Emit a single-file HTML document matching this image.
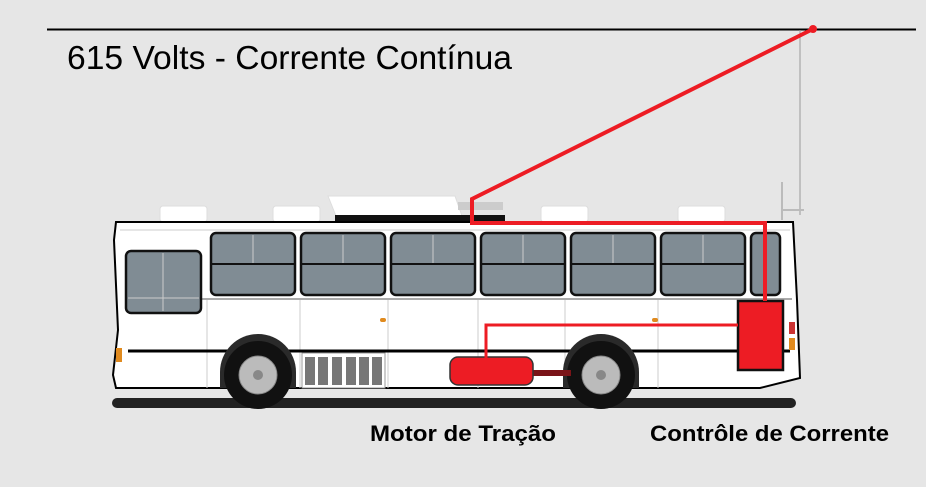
<!DOCTYPE html>
<html><head><meta charset="utf-8"><style>
html,body{margin:0;padding:0;background:#e6e6e6;}
svg{display:block}
</style></head><body>
<svg width="926" height="487" viewBox="0 0 926 487" xmlns="http://www.w3.org/2000/svg" font-family="Liberation Sans, Arial, sans-serif">
<rect width="926" height="487" fill="#e6e6e6"/>
<line x1="47" y1="29.5" x2="916" y2="29.5" stroke="#000" stroke-width="2"/>
<text x="67" y="69" font-size="33" fill="#000" textLength="445" lengthAdjust="spacingAndGlyphs">615 Volts - Corrente Contínua</text>
<!-- antenna -->
<line x1="800" y1="30" x2="800" y2="215" stroke="#999" stroke-width="1"/>
<line x1="782" y1="182" x2="782" y2="220" stroke="#bbb" stroke-width="2"/>
<line x1="782" y1="210" x2="804" y2="210" stroke="#bbb" stroke-width="2"/>
<!-- roof bumps -->
<g fill="#fff" stroke="#ddd">
<rect x="160" y="206" width="47" height="16" rx="3"/>
<rect x="273" y="206" width="47" height="16" rx="3"/>
<rect x="541" y="206" width="47" height="16" rx="3"/>
<rect x="678" y="206" width="47" height="16" rx="3"/>
</g>
<polygon points="328,196 455,196 462,216 336,216" fill="#fff" stroke="#ddd"/>
<rect x="335" y="215" width="170" height="7" fill="#111"/>
<rect x="458" y="202" width="45" height="8" fill="#ccc"/>
<!-- shadow -->
<rect x="112" y="398" width="684" height="10" rx="5" fill="#222"/>
<!-- body -->
<path d="M116,222 L793,222 L797,300 L800,378 L760,388 L116,388 L113,375 L118,330 L114,240 Z" fill="#fff" stroke="#000" stroke-width="2"/>
<line x1="120" y1="230" x2="790" y2="230" stroke="#ccc" stroke-width="1"/>
<line x1="128" y1="299" x2="792" y2="299" stroke="#aaa" stroke-width="2"/>
<g stroke="#ccc" stroke-width="1">
<line x1="207" y1="300" x2="207" y2="388"/><line x1="300" y1="300" x2="300" y2="388"/>
<line x1="388" y1="300" x2="388" y2="388"/><line x1="478" y1="300" x2="478" y2="388"/>
<line x1="565" y1="300" x2="565" y2="388"/><line x1="658" y1="300" x2="658" y2="388"/>
</g>
<line x1="128" y1="351" x2="790" y2="351" stroke="#000" stroke-width="3"/>
<rect x="116" y="348" width="6" height="14" fill="#e08a1e"/>
<rect x="789" y="322" width="6" height="12" fill="#c33"/>
<rect x="789" y="338" width="6" height="12" fill="#e08a1e"/>
<rect x="380" y="318" width="6" height="4" rx="2" fill="#e08a1e"/>
<rect x="652" y="318" width="6" height="4" rx="2" fill="#e08a1e"/>
<!-- windows -->
<g fill="#808c94" stroke="#111" stroke-width="2.5">
<rect x="126" y="251" width="75" height="62" rx="5"/>
<rect x="211" y="233" width="84" height="62" rx="5"/>
<rect x="301" y="233" width="84" height="62" rx="5"/>
<rect x="391" y="233" width="84" height="62" rx="5"/>
<rect x="481" y="233" width="84" height="62" rx="5"/>
<rect x="571" y="233" width="84" height="62" rx="5"/>
<rect x="661" y="233" width="84" height="62" rx="5"/>
<rect x="751" y="233" width="29" height="62" rx="5"/>
</g>
<g stroke="#111" stroke-width="2">
<line x1="212" y1="264" x2="294" y2="264"/><line x1="302" y1="264" x2="384" y2="264"/>
<line x1="392" y1="264" x2="474" y2="264"/><line x1="482" y1="264" x2="564" y2="264"/>
<line x1="572" y1="264" x2="654" y2="264"/><line x1="662" y1="264" x2="744" y2="264"/>
</g>
<g stroke="#ccc" stroke-width="1">
<line x1="253" y1="235" x2="253" y2="263"/><line x1="343" y1="235" x2="343" y2="263"/>
<line x1="433" y1="235" x2="433" y2="263"/><line x1="523" y1="235" x2="523" y2="263"/>
<line x1="613" y1="235" x2="613" y2="263"/><line x1="703" y1="235" x2="703" y2="263"/>
<line x1="163" y1="253" x2="163" y2="311"/><line x1="128" y1="298" x2="199" y2="298"/>
</g>
<!-- grille -->
<rect x="302" y="353" width="83" height="35" fill="#fff" stroke="#999"/>
<g fill="#777">
<rect x="305" y="357" width="10" height="28"/><rect x="318" y="357" width="10" height="28"/>
<rect x="332" y="357" width="10" height="28"/><rect x="346" y="357" width="10" height="28"/>
<rect x="359" y="357" width="10" height="28"/><rect x="372" y="357" width="10" height="28"/>
</g>
<!-- wheels -->
<path d="M220,388 L220,372 A38,38 0 0 1 296,372 L296,388 Z" fill="#2a2a2a"/>
<circle cx="258" cy="375" r="34" fill="#111"/>
<circle cx="258" cy="375" r="19" fill="#bbb" stroke="#888"/>
<circle cx="258" cy="375" r="5" fill="#888"/>
<path d="M563,388 L563,372 A38,38 0 0 1 639,372 L639,388 Z" fill="#2a2a2a"/>
<circle cx="601" cy="375" r="34" fill="#111"/>
<circle cx="601" cy="375" r="19" fill="#bbb" stroke="#888"/>
<circle cx="601" cy="375" r="5" fill="#888"/>
<!-- motor -->
<rect x="533" y="370" width="38" height="6" fill="#7a1418"/>
<rect x="450" y="357" width="83" height="28" rx="8" fill="#ed1c24" stroke="#333" stroke-width="1.5"/>
<!-- controller -->
<rect x="738" y="301" width="45" height="69" fill="#ed1c24" stroke="#111" stroke-width="2.5"/>
<!-- wiring -->
<polyline points="813,29 472,199 472,223 765,223 765,301" fill="none" stroke="#ed1c24" stroke-width="4"/>
<polyline points="486,358 486,325 738,325" fill="none" stroke="#ed1c24" stroke-width="3"/>
<circle cx="813" cy="29" r="4" fill="#ed1c24"/>
<text x="370" y="441" font-size="22" font-weight="bold" fill="#000" textLength="186" lengthAdjust="spacingAndGlyphs">Motor de Tração</text>
<text x="650" y="441" font-size="22" font-weight="bold" fill="#000" textLength="239" lengthAdjust="spacingAndGlyphs">Contrôle de Corrente</text>
</svg>
</body></html>
